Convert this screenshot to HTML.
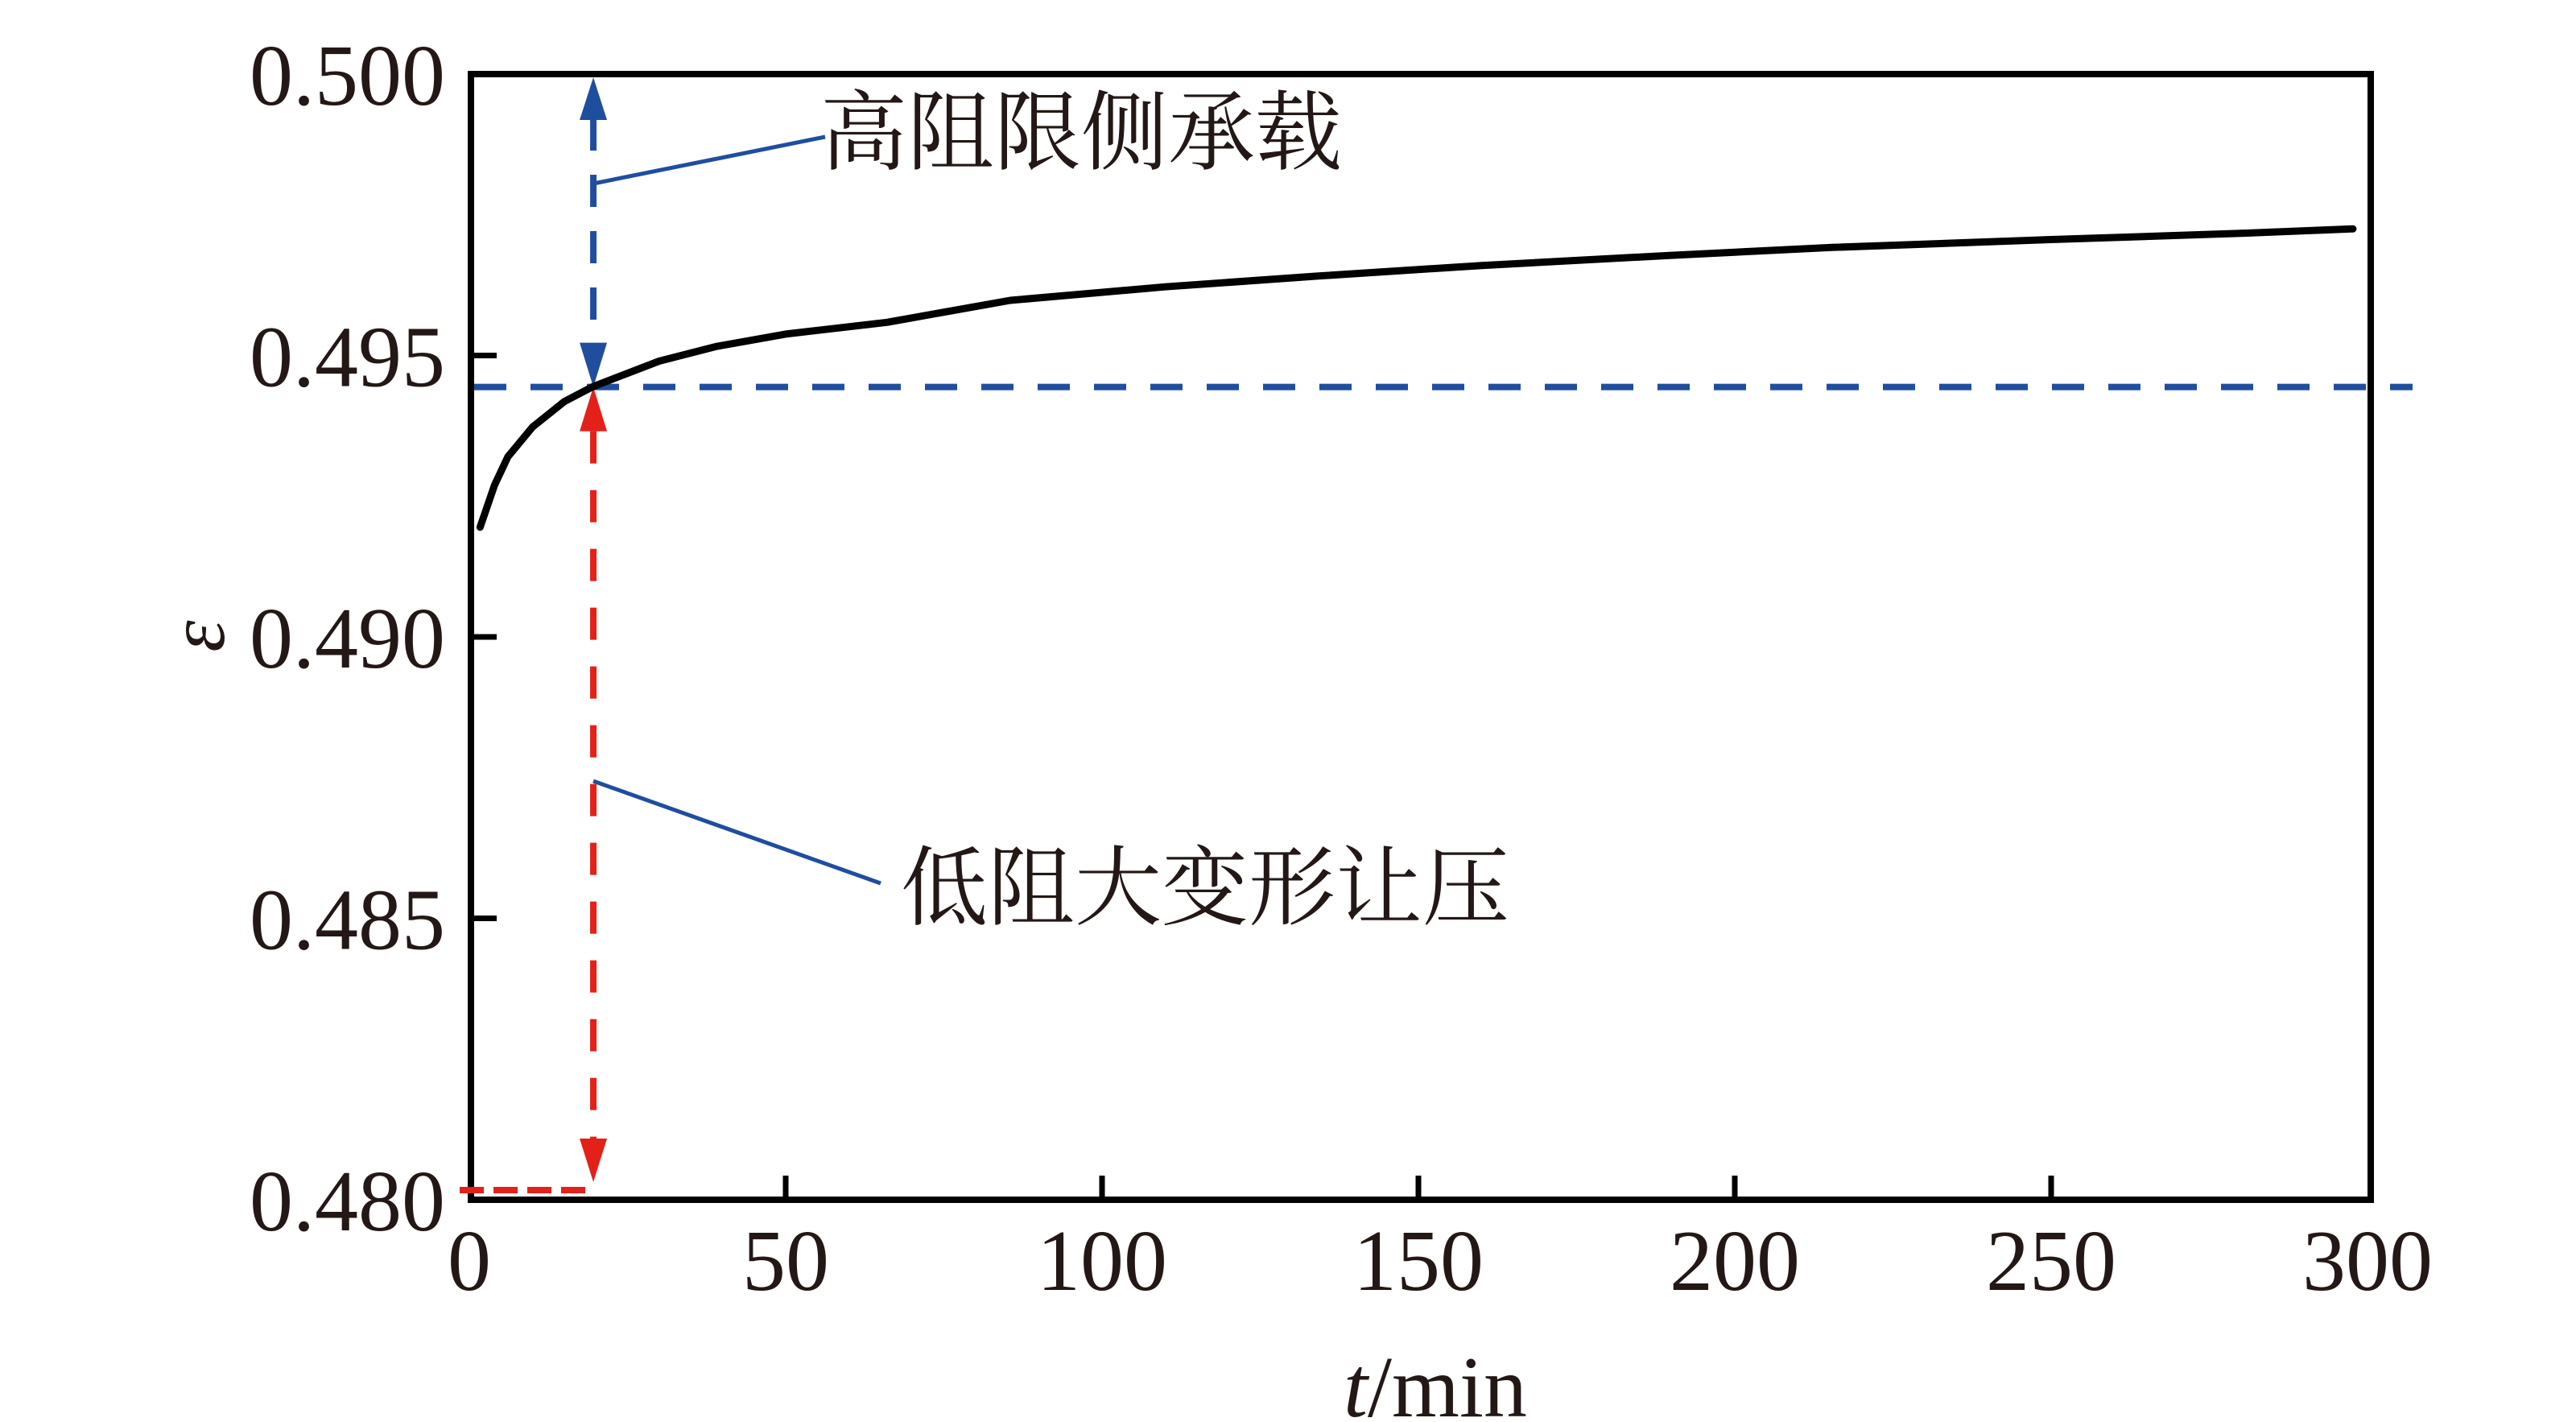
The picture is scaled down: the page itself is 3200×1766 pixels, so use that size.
<!DOCTYPE html>
<html><head><meta charset="utf-8"><style>
html,body{margin:0;padding:0;background:#fff;}
svg{display:block;}
</style></head><body>
<svg id="chart" width="3200" height="1766" viewBox="0 0 3200 1766" xmlns="http://www.w3.org/2000/svg">
<g id="plot"></g>
</svg>
<script>
const tValues=[1.7,4,6.1,10,15,19.6,30,39,50,66,85.5,110,134,160,190,215.4,250,280,297.7];
const epsValues=[0.49195,0.49270,0.49320,0.49373,0.49418,0.49445,0.49490,0.49516,0.49538,0.49559,0.49598,0.49622,0.49641,0.49660,0.49678,0.49692,0.49706,0.49717,0.49725];
const xTicks=[0,50,100,150,200,250,300];
const yTicks=[0.480,0.485,0.490,0.495,0.500];
const yTickLabels=["0.480","0.485","0.490","0.495","0.500"];
const thresholdEps=0.49444;
const thresholdT=19.6;

const X0=583,XS=7.86,YT=92,YB=1490,YMIN=0.48,YMAX=0.5;
function xs(t){return X0+XS*t;}
function ys(v){return YT+(YMAX-v)/(YMAX-YMIN)*(YB-YT);}
const NS="http://www.w3.org/2000/svg";
const g=document.getElementById('plot');
function mk(tag,attrs){const e=document.createElementNS(NS,tag);for(const k in attrs)e.setAttribute(k,attrs[k]);g.appendChild(e);return e;}
const L=585,R=2945;
const TXT='"Liberation Serif","Noto Serif CJK SC",serif';

// axis box
let e;
e=mk('rect',{x:L,y:YT,width:R-L,height:YB-YT,fill:'none',stroke:'#000','stroke-width':8});



xTicks.forEach(t=>{
  if(t>0&&t<300){
    const l=mk('line',{x1:xs(t),x2:xs(t),y1:YB,y2:YB-30,stroke:'#000','stroke-width':7});
    
    
  }
  const tx=mk('text',{x:xs(t),y:1602,'text-anchor':'middle','font-size':108,'font-family':TXT,fill:'#231815'});
  tx.textContent=String(t);
  
  
});
yTicks.forEach((v,i)=>{
  if(i>0&&i<yTicks.length-1){
    const l=mk('line',{x1:L,x2:L+32,y1:ys(v),y2:ys(v),stroke:'#000','stroke-width':7});
    
    
  }
  const tx=mk('text',{x:553,y:ys(v)+38,'text-anchor':'end','font-size':108,'font-family':TXT,fill:'#231815'});
  tx.textContent=yTickLabels[i];
  
  
});

// threshold dashed line
const ty=ys(thresholdEps), tx0=xs(thresholdT);
e=mk('line',{x1:L+4,x2:2997,y1:ty,y2:ty,stroke:'#1f4e9f','stroke-width':8,'stroke-dasharray':'40 30'});



// blue vertical arrow
e=mk('line',{x1:tx0,x2:tx0,y1:YT+55,y2:ty-55,stroke:'#1f4e9f','stroke-width':8,'stroke-dasharray':'40 30'});


e=mk('polygon',{points:`${tx0},${YT+4} ${tx0-17},${YT+57} ${tx0+17},${YT+57}`,fill:'#1f4e9f'});


e=mk('polygon',{points:`${tx0},${ty} ${tx0-17},${ty-55} ${tx0+17},${ty-55}`,fill:'#1f4e9f'});



// red vertical arrow
const ry=ys(0.4802);
e=mk('line',{x1:tx0,x2:tx0,y1:ty+55,y2:ry-55,stroke:'#e32119','stroke-width':8,'stroke-dasharray':'40 33'});


e=mk('polygon',{points:`${tx0},${ty} ${tx0-17},${ty+55} ${tx0+17},${ty+55}`,fill:'#e32119'});


e=mk('polygon',{points:`${tx0},${ry-8} ${tx0-17},${ry-62} ${tx0+17},${ry-62}`,fill:'#e32119'});


e=mk('line',{x1:571,x2:tx0-10,y1:1478,y2:1478,stroke:'#e32119','stroke-width':8,'stroke-dasharray':'30 12'});



// curve
let d='';
tValues.forEach((t,i)=>{d+=(i?'L':'M')+xs(t).toFixed(1)+','+ys(epsValues[i]).toFixed(1);});
e=mk('path',{d:d,fill:'none',stroke:'#000','stroke-width':9,'stroke-linecap':'round','stroke-linejoin':'round'});



// annotations
e=mk('line',{x1:tx0,y1:228,x2:1025,y2:170,stroke:'#1f4e9f','stroke-width':5});


e=mk('text',{x:1019,y:202,'font-size':108,'font-family':'"Noto Serif CJK SC","Noto Sans CJK SC",serif',fill:'#231815'});
e.textContent='高阻限侧承载';


e=mk('line',{x1:tx0,y1:970,x2:1094,y2:1097,stroke:'#1f4e9f','stroke-width':5});


e=mk('text',{x:1119,y:1140,'font-size':108,'font-family':'"Noto Serif CJK SC","Noto Sans CJK SC",serif',fill:'#231815'});
e.textContent='低阻大变形让压';



// axis titles
e=mk('text',{x:1669,y:1759,'font-size':108,'font-family':TXT,fill:'#231815'});
e.innerHTML='<tspan font-style="italic">t</tspan>/min';


e=mk('text',{x:0,y:0,'font-size':100,'font-family':TXT,'font-style':'italic',fill:'#231815','text-anchor':'middle',transform:'translate(278,790) rotate(-90)'});
e.textContent='ε';


</script>
</body></html>
